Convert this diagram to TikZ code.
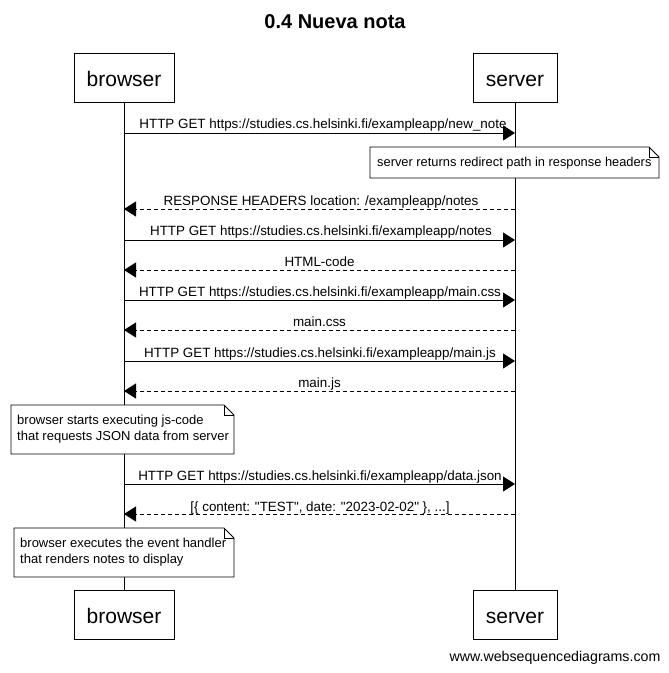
\documentclass[tikz,border=0pt]{standalone}
\usepackage{fontspec}
\setmainfont{Liberation Sans}
\usetikzlibrary{arrows.meta}
\begin{document}
\begin{tikzpicture}[x=1pt,y=-1pt,
  actor/.style={draw,line width=1pt,minimum width=#1,minimum height=49pt,inner sep=0pt,text height=19.5pt,text depth=1.5pt,font=\fontsize{21}{24}\selectfont},
  msglbl/.style={font=\fontsize{13.4}{15}\selectfont,anchor=base,inner sep=0pt},
  req/.style={line width=0.9pt,-{Triangle[length=12pt,width=15pt]}},
  resp/.style={line width=0.9pt,dashed,dash pattern=on 4pt off 3pt,-{Triangle[length=12pt,width=15pt]}},
  notetext/.style={font=\fontsize{13}{16}\selectfont,align=left,anchor=north west,inner sep=0pt},
  life/.style={line width=0.9pt}]
\useasboundingbox (0,0) rectangle (669,673);
\fill[white] (0,0) rectangle (669,673);
\node[font=\bfseries\fontsize{20}{24}\selectfont] (title) at (335,22) {0.4 Nueva nota};
% actors
\node[actor=100pt] (bt) at (124,77.5) {browser};
\node[actor=84pt] (st) at (515,77.5) {server};
\node[actor=100pt] (bb) at (124,614.5) {browser};
\node[actor=84pt] (sb) at (515,614.5) {server};
\draw[life] (bt.south) -- (bb.north);
\draw[life] (st.south) -- (sb.north);
% message points
\foreach \n/\y in {1/133,3/209,4/240,5/270,6/300,7/330,8/361,9/391,11/484,12/514}{
  \coordinate (b\n) at (124,\y);
  \coordinate (s\n) at (515,\y);
}
\draw[req] (b1) -- (s1);
\node[msglbl] (l1) at (323,128.5) {HTTP GET https://studies.cs.helsinki.fi/exampleapp/new\_note};
% note 1
\draw[line width=0.9pt,fill=white] (370,147) -- (649,147) -- (659,157) -- (659,178) -- (370,178) -- cycle;
\draw[line width=0.7pt] (649,147) -- (649,157) -- (659,157);
\node[notetext,font=\fontsize{12.85}{16}\selectfont] (n1) at (377,157) {server returns redirect path in response headers};
\draw[resp] (s3) -- (b3);
\node[msglbl] (l3) at (321,205) {RESPONSE HEADERS location: /exampleapp/notes};
\draw[req] (b4) -- (s4);
\node[msglbl] (l4) at (321,235.5) {HTTP GET https://studies.cs.helsinki.fi/exampleapp/notes};
\draw[resp] (s5) -- (b5);
\node[msglbl] (l5) at (319.5,266) {HTML-code};
\draw[req] (b6) -- (s6);
\node[msglbl] (l6) at (320,296) {HTTP GET https://studies.cs.helsinki.fi/exampleapp/main.css};
\draw[resp] (s7) -- (b7);
\node[msglbl] (l7) at (319.5,326) {main.css};
\draw[req] (b8) -- (s8);
\node[msglbl] (l8) at (320,357) {HTTP GET https://studies.cs.helsinki.fi/exampleapp/main.js};
\draw[resp] (s9) -- (b9);
\node[msglbl] (l9) at (319.5,387) {main.js};
% note 2
\draw[line width=0.9pt,fill=white] (11,405) -- (224,405) -- (234,415) -- (234,454) -- (11,454) -- cycle;
\draw[line width=0.7pt] (224,405) -- (224,415) -- (234,415);
\node[notetext] (n2) at (17,415) {browser starts executing js-code\\that requests JSON data from server};
\draw[req] (b11) -- (s11);
\node[msglbl] (l11) at (320,480) {HTTP GET https://studies.cs.helsinki.fi/exampleapp/data.json};
\draw[resp] (s12) -- (b12);
\node[msglbl] (l12) at (320,511) {[\{ content: \textquotedbl TEST\textquotedbl, date: \textquotedbl 2023-02-02\textquotedbl\ \}, ...]};
% note 3
\draw[line width=0.9pt,fill=white] (14,528) -- (224,528) -- (234,538) -- (234,577) -- (14,577) -- cycle;
\draw[line width=0.7pt] (224,528) -- (224,538) -- (234,538);
\node[notetext] (n3) at (20,538) {browser executes the event handler\\that renders notes to display};
\node[font=\fontsize{14.2}{16}\selectfont] (wsd) at (555,658) {www.websequencediagrams.com};
\end{tikzpicture}
\end{document}
